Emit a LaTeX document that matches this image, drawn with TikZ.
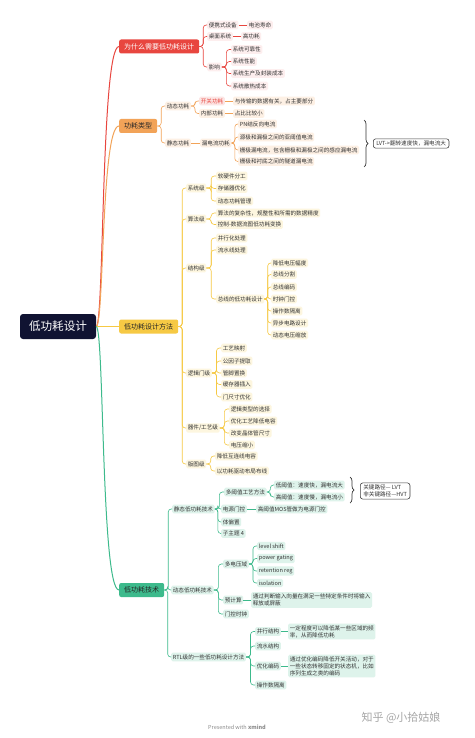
\documentclass[tikz,border=0pt]{standalone}
\usepackage{fontspec}
\setmainfont{Noto Sans CJK SC}
\usetikzlibrary{calc,decorations.pathreplacing}
\definecolor{navy}{HTML}{101332}
\definecolor{rd}{HTML}{E8463F}
\definecolor{org}{HTML}{F2A358}
\definecolor{ylw}{HTML}{F6C944}
\definecolor{grn}{HTML}{3DBA8C}
\tikzset{
  root/.style  ={fill=navy,text=white,rounded corners=3pt,minimum width=76pt,
                 minimum height=25pt,inner sep=0pt,font=\fontsize{11.6}{13}\selectfont},
  main/.style  ={rounded corners=2pt,minimum height=14pt,inner xsep=5pt,inner ysep=0pt,
                 anchor=west,font=\fontsize{7}{8}\selectfont},
  leaf/.style  ={rounded corners=1.5pt,inner xsep=1.6pt,inner ysep=1.8pt,anchor=west,
                 align=left,text=black!80,font=\fontsize{5.6}{7}\selectfont},
  rl/.style    ={leaf,fill=rd!9},
  ol/.style    ={leaf,fill=org!16},
  yl/.style    ={leaf,fill=ylw!17},
  gl/.style    ={leaf,fill=grn!17},
  note/.style  ={draw=black!75,line width=.6pt,fill=white,rounded corners=2.5pt,
                 anchor=west,align=left,inner xsep=3pt,inner ysep=2pt,
                 text=black!80,font=\fontsize{5.6}{7}\selectfont},
  ln/.style    ={line width=.6pt,rounded corners=3pt},
  trunk/.style ={line width=1pt},
  brc/.style   ={decorate,decoration={brace,amplitude=4pt},line width=.7pt,black!80},
}
% parent -> child, elbow connector
\newcommand{\conn}[3]{\draw[ln,#1] (#2.east) -- ($(#2.east)!.5!(#2.east -| #3.west)$) |- (#3.west);}
% parent -> child, straight
\newcommand{\connS}[3]{\draw[ln,#1] (#2.east) -- (#3.west);}

\begin{document}
\begin{tikzpicture}[x=1pt,y=-1pt]
  \useasboundingbox (0,0) rectangle (474,738);
  \fill[white] (0,0) rectangle (474,738);

  \node[root] (core) at (58,326.5) {低功耗设计};

  % --- main topics ---
  \node[main,fill=rd,text=white] (why)  at (119,46.5)  {为什么需要低功耗设计};
  \node[main,fill=org,text=black!85] (kind) at (119,126) {功耗类型};
  \node[main,fill=ylw,text=black!85] (meth) at (119,326.5) {低功耗设计方法};
  \node[main,fill=grn,text=black!85] (tech) at (119,590) {低功耗技术};

  \draw[trunk,rd]  (core.east) .. controls +(8,0) and +(-18,0) .. (why.west);
  \draw[trunk,org] (core.east) .. controls +(8,0) and +(-18,0) .. (kind.west);
  \draw[trunk,ylw] (core.east) -- (meth.west);
  \draw[trunk,grn] (core.east) .. controls +(8,0) and +(-18,0) .. (tech.west);

  % --- why ---
  \node[rl] (port) at (207,25)   {便携式设备};
  \node[rl] (batt) at (247,25)   {电池寿命};
  \node[rl] (desk) at (207,36.5) {桌面系统};
  \node[rl] (hpow) at (241,36.5) {高功耗};
  \node[rl] (infl) at (207,67)   {影响};
  \node[rl] (rel)  at (231,49.5) {系统可靠性};
  \node[rl] (perf) at (231,61.5) {系统性能};
  \node[rl] (cost) at (231,73.5) {系统生产及封装成本};
  \node[rl] (heat) at (231,86)   {系统散热成本};
  \foreach \c in {port,desk,infl} {\conn{rd}{why}{\c}}
  \connS{rd}{port}{batt}
  \connS{rd}{desk}{hpow}
  \foreach \c in {rel,perf,cost,heat} {\conn{rd}{infl}{\c}}

  % --- kinds of power ---
  \node[ol] (dyn)  at (165,106)   {动态功耗};
  \node[leaf,fill=rd!14,text=rd] (sw) at (199,101) {开关功耗};
  \node[ol] (swd)  at (233,101)   {与传输的数据有关，占主要部分};
  \node[ol] (intl) at (199,113.5) {内部功耗};
  \node[ol] (intd) at (233,113.5) {占比比较小};
  \node[ol] (stat) at (165,143)   {静态功耗};
  \node[ol] (leak) at (200,143)   {漏电流功耗};
  \node[ol] (pn)   at (238,124)   {PN结反向电流};
  \node[ol] (sub)  at (238,137)   {源极和漏极之间的亚阈值电流};
  \node[ol] (gate) at (238,150)   {栅极漏电流，包含栅极和漏极之间的感应漏电流};
  \node[ol] (tun)  at (238,161.5) {栅极和衬底之间的隧道漏电流};
  \foreach \c in {dyn,stat} {\conn{org}{kind}{\c}}
  \foreach \c in {sw,intl} {\conn{org}{dyn}{\c}}
  \connS{org}{sw}{swd}
  \connS{org}{intl}{intd}
  \connS{org}{stat}{leak}
  \foreach \c in {pn,sub,gate,tun} {\conn{org}{leak}{\c}}
  \coordinate (lvtT) at (364,120);
  \coordinate (lvtB) at (364,167);
  \draw[brc] (lvtT) -- (lvtB);
  \node[note] (lvt) at (373,143.5) {LVT->翻转速度快，漏电流大};

  % --- design methods ---
  \node[yl] (sys)  at (186,188)   {系统级};
  \node[yl] (s1)   at (216,176)   {软硬件分工};
  \node[yl] (s2)   at (216,188.5) {存储器优化};
  \node[yl] (s3)   at (216,201)   {动态功耗管理};
  \node[yl] (alg)  at (186,219)   {算法级};
  \node[yl] (a1)   at (216,213)   {算法的复杂性，规整性和所需的数据精度};
  \node[yl] (a2)   at (216,224.5) {控制-数据流图低功耗变换};
  \node[yl] (arch) at (186,268)   {结构级};
  \node[yl] (c1)   at (216,238)   {并行化处理};
  \node[yl] (c2)   at (216,250)   {流水线处理};
  \node[yl] (c3)   at (216,299)   {总线的低功耗设计};
  \node[yl] (d1)   at (271,263)   {降低电压幅度};
  \node[yl] (d2)   at (271,274.5) {总线分割};
  \node[yl] (d3)   at (271,287)   {总线编码};
  \node[yl] (d4)   at (271,299)   {时钟门控};
  \node[yl] (d5)   at (271,311)   {操作数隔离};
  \node[yl] (d6)   at (271,323)   {异步电路设计};
  \node[yl] (d7)   at (271,335)   {动态电压缩放};
  \node[yl] (lgc)  at (186,373)   {逻辑门级};
  \node[yl] (g1)   at (221,348)   {工艺映射};
  \node[yl] (g2)   at (221,361)   {公因子提取};
  \node[yl] (g3)   at (221,373)   {管脚置换};
  \node[yl] (g4)   at (221,384.5) {缓存器插入};
  \node[yl] (g5)   at (221,397)   {门尺寸优化};
  \node[yl] (dev)  at (186,428)   {器件/工艺级};
  \node[yl] (e1)   at (229,409)   {逻辑类型的选择};
  \node[yl] (e2)   at (229,421)   {优化工艺降低电容};
  \node[yl] (e3)   at (229,433)   {改变晶体管尺寸};
  \node[yl] (e4)   at (229,445)   {电压缩小};
  \node[yl] (lay)  at (186,464)   {版图级};
  \node[yl] (f1)   at (215,456)   {降低互连线电容};
  \node[yl] (f2)   at (215,471)   {以功耗驱动布局布线};
  \foreach \c in {sys,alg,arch,lgc,dev,lay} {\conn{ylw}{meth}{\c}}
  \foreach \c in {s1,s2,s3} {\conn{ylw}{sys}{\c}}
  \foreach \c in {a1,a2} {\conn{ylw}{alg}{\c}}
  \foreach \c in {c1,c2,c3} {\conn{ylw}{arch}{\c}}
  \foreach \c in {d1,d2,d3,d4,d5,d6,d7} {\conn{ylw}{c3}{\c}}
  \foreach \c in {g1,g2,g3,g4,g5} {\conn{ylw}{lgc}{\c}}
  \foreach \c in {e1,e2,e3,e4} {\conn{ylw}{dev}{\c}}
  \foreach \c in {f1,f2} {\conn{ylw}{lay}{\c}}

  % --- techniques ---
  \node[gl] (stt)  at (172,509)   {静态低功耗技术};
  \node[gl] (mvt)  at (224,492)   {多阈值工艺方法};
  \node[gl] (lo)   at (274,485)   {低阈值：速度快，漏电流大};
  \node[gl] (hi)   at (274,497)   {高阈值：速度慢，漏电流小};
  \node[gl] (pgt)  at (221,509)   {电源门控};
  \node[gl] (pgd)  at (256,509)   {高阈值MOS管做为电源门控};
  \node[gl] (bias) at (221,522)   {体偏置};
  \node[gl] (st4)  at (221,533.5) {子主题 4};
  \coordinate (keyT) at (350,477);
  \coordinate (keyB) at (350,503);
  \draw[brc] (keyT) -- (keyB);
  \node[note] (key) at (360,491) {关键路径— LVT\\非关键路径—HVT};

  \node[gl] (dyt)  at (171,590)   {动态低功耗技术};
  \node[gl] (mvd)  at (223,564)   {多电压域};
  \node[gl] (v1)   at (257,546)   {level shift};
  \node[gl] (v2)   at (257,558.5) {power gating};
  \node[gl] (v3)   at (257,571)   {retention reg};
  \node[gl] (v4)   at (257,583)   {isolation};
  \node[gl] (pre)  at (223,600)   {预计算};
  \node[gl] (pred) at (251,600)   {通过判断输入向量在满足一些特定条件时将输入\\释放或屏蔽};
  \node[gl] (cg)   at (223,614)   {门控时钟};

  \node[gl] (rtl)  at (171,657)   {RTL级的一些低功耗设计方法};
  \node[gl] (p1)   at (255,631.5) {并行结构};
  \node[gl] (p1d)  at (288,631.5) {一定程度可以降低某一些区域的频\\率，从而降低功耗};
  \node[gl] (p2)   at (255,646)   {流水结构};
  \node[gl] (p3)   at (255,666)   {优化编码};
  \node[gl] (p3d)  at (288,666)   {通过优化编码降低开关活动，对于\\一些状态转移固定的状态机，比如\\序列生成之类的编码};
  \node[gl] (p4)   at (255,685)   {操作数隔离};

  \foreach \c in {stt,dyt,rtl} {\conn{grn}{tech}{\c}}
  \foreach \c in {mvt,pgt,bias,st4} {\conn{grn}{stt}{\c}}
  \foreach \c in {lo,hi} {\conn{grn}{mvt}{\c}}
  \connS{grn}{pgt}{pgd}
  \foreach \c in {mvd,pre,cg} {\conn{grn}{dyt}{\c}}
  \foreach \c in {v1,v2,v3,v4} {\conn{grn}{mvd}{\c}}
  \connS{grn}{pre}{pred}
  \foreach \c in {p1,p2,p3,p4} {\conn{grn}{rtl}{\c}}
  \connS{grn}{p1}{p1d}
  \connS{grn}{p3}{p3d}

  % --- footer ---
  \node[font=\fontsize{11}{12}\selectfont,text=black!35,anchor=west] (mark) at (358,718) {知乎 @小拾姑娘};
  \node[font=\fontsize{5.5}{6}\selectfont,text=black!45] (brand) at (237,727) {Presented with \textbf{xmind}};
\end{tikzpicture}
\end{document}
